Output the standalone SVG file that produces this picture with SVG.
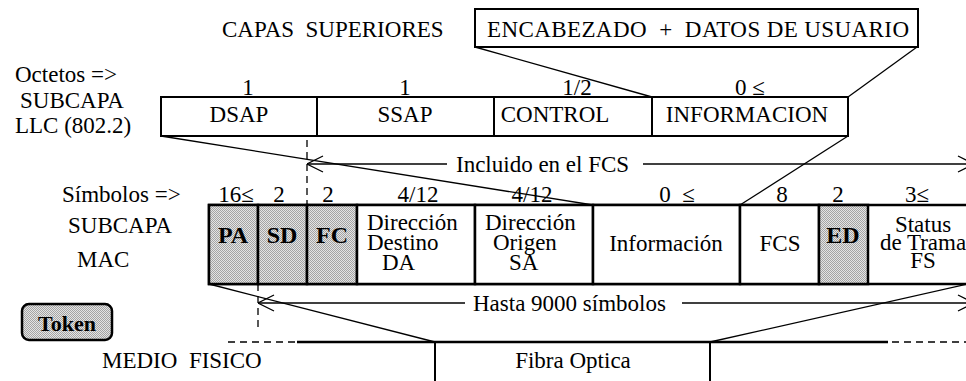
<svg xmlns="http://www.w3.org/2000/svg" width="966" height="381" viewBox="0 0 966 381" font-family="'Liberation Serif', 'Times New Roman', serif">
<style>
text{font-family:'Liberation Serif','Times New Roman',serif;font-size:23px;fill:#000;white-space:pre}
.m{text-anchor:middle}
.b{font-weight:bold;font-size:24px}
.box{fill:#fff;stroke:#000;stroke-width:2}
.sh{fill:url(#hatch);stroke:#000;stroke-width:2.5}
.ln{stroke:#000;stroke-width:1.3;fill:none}
.dash{stroke:#000;stroke-width:1.3;stroke-dasharray:7 5;fill:none}
.thick{stroke:#000;stroke-width:2.5;fill:none}
</style>
<defs>
<pattern id="hatch" width="2" height="2" patternUnits="userSpaceOnUse">
<rect width="2" height="2" fill="#e4e4e4"/>
<rect width="1" height="1" fill="#a4a4a4"/>
<rect x="1" y="1" width="1" height="1" fill="#a4a4a4"/>
</pattern>
<marker id="arr" viewBox="0 0 20 20" refX="20" refY="10" markerWidth="20" markerHeight="20" markerUnits="userSpaceOnUse" orient="auto-start-reverse">
<path d="M4,2 L20,10 L4,18" fill="none" stroke="#000" stroke-width="1.3"/>
</marker>
</defs>

<g id="capas">
<text x="222" y="37">CAPAS  SUPERIORES</text>
</g>
<g id="encabezado">
<rect class="box" x="475" y="9" width="443" height="38"/>
<text x="487" y="37" textLength="422" lengthAdjust="spacing">ENCABEZADO  +  DATOS DE USUARIO</text>
</g>

<g id="llc-labels">
<text x="15" y="82">Octetos =&gt;</text>
<text x="20" y="108">SUBCAPA</text>
<text x="15" y="133">LLC (802.2)</text>
<text class="m" x="248" y="95">1</text>
<text class="m" x="405" y="95">1</text>
<text class="m" x="577" y="95">1/2</text>
<text class="m" x="750" y="95">0 ≤</text>
</g>
<g id="llc">
<rect class="box" x="161" y="97" width="687" height="39"/>
<line class="thick" x1="317" y1="97" x2="317" y2="136" style="stroke-width:2"/>
<line class="thick" x1="494" y1="97" x2="494" y2="136" style="stroke-width:2"/>
<line class="thick" x1="652" y1="97" x2="652" y2="136" style="stroke-width:2"/>
<text class="m" x="239" y="122">DSAP</text>
<text class="m" x="405" y="122">SSAP</text>
<text class="m" x="555" y="122">CONTROL</text>
<text class="m" x="747" y="122">INFORMACION</text>
</g>

<g id="mac-labels">
<text x="62" y="202">Símbolos =&gt;</text>
<text x="68" y="233">SUBCAPA</text>
<text x="77" y="267">MAC</text>
<text class="m" x="236" y="202">16≤</text>
<text class="m" x="279" y="202">2</text>
<text class="m" x="328" y="202">2</text>
<text class="m" x="418" y="202">4/12</text>
<text class="m" x="532" y="202">4/12</text>
<text class="m" x="677" y="202">0  ≤</text>
<text class="m" x="782" y="202">8</text>
<text class="m" x="838" y="202">2</text>
<text class="m" x="917" y="202">3≤</text>
</g>
<g id="mac">
<rect class="box" x="209" y="205" width="762" height="79" style="stroke-width:2.5"/>
<rect class="sh" x="209" y="205" width="49" height="79"/>
<rect class="sh" x="258" y="205" width="49" height="79"/>
<rect class="sh" x="307" y="205" width="50" height="79"/>
<rect class="box" x="357" y="205" width="118" height="79" style="stroke-width:2.5"/>
<rect class="box" x="475" y="205" width="118" height="79" style="stroke-width:2.5"/>
<rect class="box" x="593" y="205" width="147" height="79" style="stroke-width:2.5"/>
<rect class="box" x="740" y="205" width="79" height="79" style="stroke-width:2.5"/>
<rect class="sh" x="819" y="205" width="49" height="79"/>
<text class="m b" x="233" y="243">PA</text>
<text class="m b" x="282" y="243">SD</text>
<text class="m b" x="332" y="243">FC</text>
<text class="m b" x="843" y="243">ED</text>
<text x="367" y="230">Dirección</text>
<text x="367" y="250">Destino</text>
<text x="382" y="270">DA</text>
<text x="485" y="230">Dirección</text>
<text x="493" y="250">Origen</text>
<text x="509" y="270">SA</text>
<text class="m" x="666" y="251">Información</text>
<text class="m" x="780" y="251">FCS</text>
<text class="m" x="923" y="232">Status</text>
<text class="m" x="923" y="250">de Trama</text>
<text class="m" x="923" y="268">FS</text>
</g>

<g id="token">
<rect x="22" y="304" width="90" height="36" rx="7" fill="url(#hatch)" stroke="#000" stroke-width="2.5"/>
<text class="m" x="67" y="331" style="font-weight:bold;font-size:22px">Token</text>
</g>

<g id="medio">
<text x="102" y="368">MEDIO  FISICO</text>
<text class="m" x="573" y="368">Fibra Optica</text>
</g>

<g id="connectors">
<line class="ln" x1="475" y1="47" x2="652" y2="97"/>
<line class="ln" x1="917" y1="47" x2="848" y2="97"/>
<line class="ln" x1="161" y1="136" x2="593" y2="205"/>
<line class="ln" x1="848" y1="136" x2="740" y2="205"/>
<line class="dash" x1="307" y1="140" x2="307" y2="205"/>
<line class="ln" x1="307" y1="164" x2="447" y2="164" marker-start="url(#arr)"/>
<text x="456" y="172">Incluido en el FCS</text>
<line class="ln" x1="643" y1="164" x2="974" y2="164" marker-end="url(#arr)"/>
<line class="dash" x1="258" y1="284" x2="258" y2="330"/>
<line class="ln" x1="258" y1="303" x2="465" y2="303" marker-start="url(#arr)"/>
<text x="473" y="311">Hasta 9000 símbolos</text>
<line class="ln" x1="682" y1="303" x2="974" y2="303" marker-end="url(#arr)"/>
<line class="ln" x1="209" y1="284" x2="435" y2="342"/>
<line class="ln" x1="710" y1="342" x2="968" y2="284"/>
<line class="dash" x1="228" y1="342" x2="297" y2="342"/>
<line class="thick" x1="297" y1="342" x2="888" y2="342"/>
<line class="dash" x1="892" y1="342" x2="966" y2="342"/>
<line class="thick" x1="435" y1="342" x2="435" y2="381" style="stroke-width:2"/>
<line class="thick" x1="710" y1="342" x2="710" y2="381" style="stroke-width:2"/>
</g>
</svg>
